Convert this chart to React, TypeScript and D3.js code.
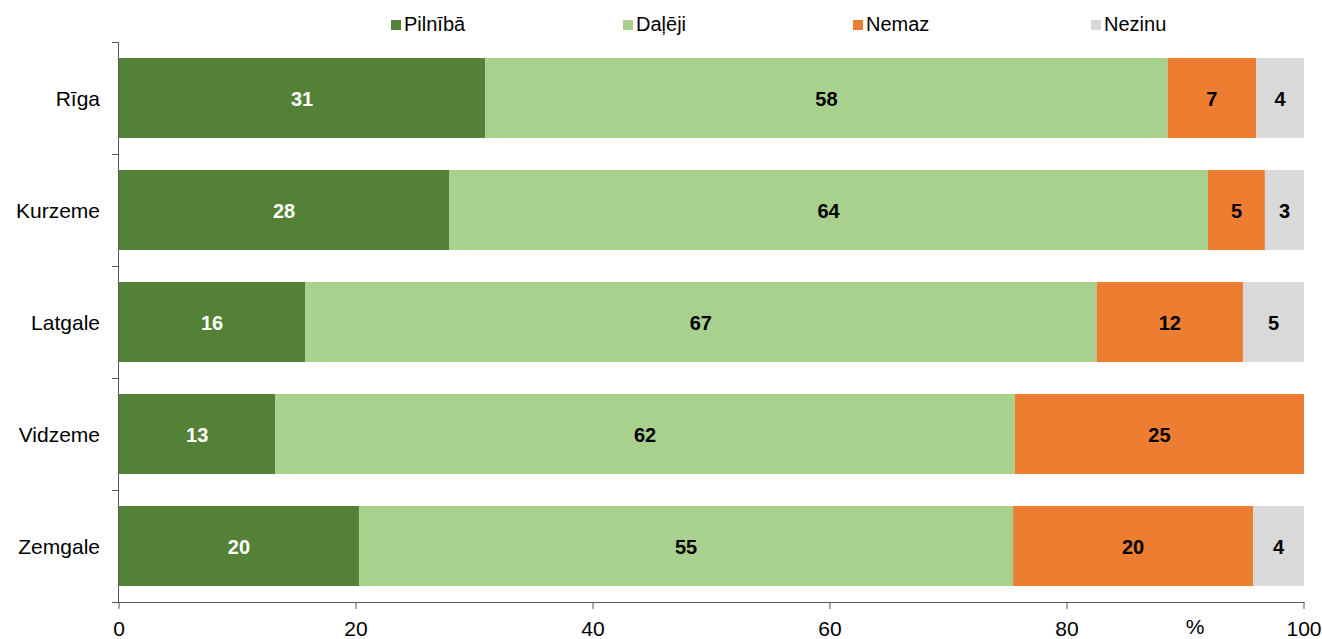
import React from "react";
import * as d3 from "d3";

const categories = ["Rīga", "Kurzeme", "Latgale", "Vidzeme", "Zemgale"];
const seriesNames = ["Pilnībā", "Daļēji", "Nemaz", "Nezinu"];
const pilniba = [30.9, 27.85, 15.7, 13.2, 20.25];
const daleji = [57.6, 64.05, 66.8, 62.4, 55.2];
const nemaz = [7.45, 4.8, 12.35, 24.4, 20.25];
const nezinu = [4.05, 3.3, 5.15, 0, 4.3];
const labels = [
  [31, 58, 7, 4],
  [28, 64, 5, 3],
  [16, 67, 12, 5],
  [13, 62, 25, null],
  [20, 55, 20, 4],
];
const xTicks = [0, 20, 40, 60, 80, 100];
const colors = ["#538135", "#A9D18E", "#ED7D31", "#D9D9D9"];
const labelColors = ["#FFFFFF", "#000000", "#000000", "#000000"];

const W = 1322;
const H = 639;
const left = 119;
const right = 1304;
const top = 42;
const bottom = 602;

export default function App() {
  const x = d3.scaleLinear().domain([0, 100]).range([left, right]);
  const y = d3
    .scaleBand()
    .domain(categories)
    .range([top, bottom])
    .paddingInner(0.286)
    .paddingOuter(0.143);
  const rows = categories.map((c, i) => ({
    cat: c,
    vals: [pilniba[i], daleji[i], nemaz[i], nezinu[i]],
  }));
  const stackKeys = [0, 1, 2, 3];
  const stack = d3
    .stack<any, number>()
    .keys(stackKeys as any)
    .value((d: any, k: any) => d.vals[k]);
  const stacked = stack(rows as any);
  const font = "'Liberation Sans', Arial, sans-serif";
  const legendX = [391, 623, 853, 1091];
  const bandStep = (bottom - top) / categories.length;

  return (
    <svg
      width={W}
      height={H}
      style={{ position: "absolute", left: 0, top: 0, fontFamily: font }}
    >
      <rect width={W} height={H} fill="#fff" />
      {stacked.map((layer, si) =>
        layer.map((d, ci) => {
          const x0 = x(d[0]);
          const x1 = x(d[1]);
          const yy = y(categories[ci])!;
          const lbl = labels[ci][si];
          return (
            <g key={`${si}-${ci}`}>
              {x1 - x0 > 0 && (
                <rect
                  x={x0}
                  y={yy}
                  width={x1 - x0}
                  height={y.bandwidth()}
                  fill={colors[si]}
                />
              )}
              {lbl !== null && x1 - x0 > 0 && (
                <text
                  x={(x0 + x1) / 2}
                  y={yy + y.bandwidth() / 2 + 1}
                  dy="0.35em"
                  textAnchor="middle"
                  fontSize={20}
                  fontWeight="bold"
                  fill={labelColors[si]}
                >
                  {lbl}
                </text>
              )}
            </g>
          );
        })
      )}
      {/* y axis */}
      <line x1={left - 0.5} x2={left - 0.5} y1={top} y2={bottom + 1} stroke="#595959" />
      {d3.range(categories.length + 1).map((i) => (
        <line
          key={i}
          x1={left - 7}
          x2={left}
          y1={top + i * bandStep + 0.5}
          y2={top + i * bandStep + 0.5}
          stroke="#595959"
        />
      ))}
      {categories.map((c) => (
        <text
          key={c}
          x={100}
          y={y(c)! + y.bandwidth() / 2 + 1}
          dy="0.35em"
          textAnchor="end"
          fontSize={21}
          fill="#000"
        >
          {c}
        </text>
      ))}
      {/* x axis */}
      <line x1={left - 7} x2={right + 0.5} y1={bottom + 0.5} y2={bottom + 0.5} stroke="#595959" />
      {xTicks.map((t) => (
        <g key={t}>
          <line
            x1={x(t)}
            x2={x(t)}
            y1={bottom}
            y2={bottom + 7}
            stroke="#595959"
          />
          <text
            x={x(t)}
            y={629}
            dy="0.35em"
            textAnchor="middle"
            fontSize={21}
            fill="#000"
          >
            {t}
          </text>
        </g>
      ))}
      <text x={1195} y={627} dy="0.35em" textAnchor="middle" fontSize={21} fill="#000">
        %
      </text>
      {/* legend */}
      {seriesNames.map((n, i) => (
        <g key={n}>
          <rect x={legendX[i]} y={20} width={10} height={10} fill={colors[i]} />
          <text x={legendX[i] + 13} y={24} dy="0.35em" fontSize={20} fill="#000">
            {n}
          </text>
        </g>
      ))}
    </svg>
  );
}
